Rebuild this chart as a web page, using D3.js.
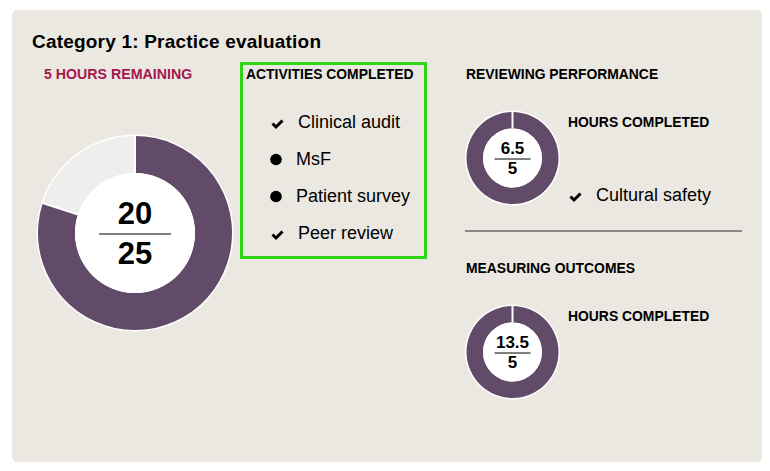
<!DOCTYPE html>
<html>
<head>
<meta charset="utf-8">
<script src="https://cdn.jsdelivr.net/npm/d3@7"></script>
<style>
  body { margin: 0; background: #fff; }
  text { font-family: "Liberation Sans", Arial, sans-serif; }
</style>
</head>
<body>
<div id="chart"></div>
<script>
var width = 770;
var height = 471;

// main category
var categoryTitle = "Category 1: Practice evaluation";
var mainDone = 20;
var mainTarget = 25;

// activities list
var activities = ["Clinical audit", "MsF", "Patient survey", "Peer review"];
var activityDone = [true, false, false, true];

// sub sections
var sections = ["REVIEWING PERFORMANCE", "MEASURING OUTCOMES"];
var sectionDone = [6.5, 13.5];
var sectionTarget = [5, 5];
var sectionItems = [["Cultural safety"], []];

var purple = "#624b68";
var light = "#efeeec";
var headSize = "13.9px";

var svg = d3.select("#chart").append("svg")
    .attr("width", width)
    .attr("height", height);

svg.append("rect")
    .attr("x", 12).attr("y", 10)
    .attr("width", 750).attr("height", 452)
    .attr("rx", 5)
    .attr("fill", "#ebe8e2");

svg.append("text")
    .attr("x", 32).attr("y", 48)
    .attr("font-size", "19px")
    .attr("letter-spacing", "0.2px")
    .attr("font-weight", "bold")
    .attr("fill", "#000")
    .text(categoryTitle);

svg.append("text")
    .attr("x", 44).attr("y", 79)
    .attr("font-size", "14.2px")
    .attr("font-weight", "bold")
    .attr("fill", "#a3174b")
    .text((mainTarget - mainDone) + " HOURS REMAINING");

function drawDonut(cx, cy, rOuter, rInner, done, target, fs, lineHalf, gap) {
    var g = svg.append("g").attr("transform", "translate(" + cx + "," + cy + ")");
    var vals = [Math.min(done, target), Math.max(target - done, 0)];
    var pie = d3.pie().sort(null)(vals);
    var arc = d3.arc().innerRadius(rInner).outerRadius(rOuter);
    g.append("circle").attr("r", rOuter + 1.5).attr("fill", "#fff");
    g.selectAll("path.seg").data(pie).enter().append("path")
        .attr("class", "seg")
        .attr("d", arc)
        .attr("fill", function(d, i) { return i == 0 ? purple : light; });
    // separators at slice edges
    pie.forEach(function(d) {
        if (d.endAngle - d.startAngle <= 0) return;
        var a = d.startAngle;
        g.append("line")
            .attr("x1", Math.sin(a) * rInner).attr("y1", -Math.cos(a) * rInner)
            .attr("x2", Math.sin(a) * (rOuter + 1)).attr("y2", -Math.cos(a) * (rOuter + 1))
            .attr("stroke", "#fff").attr("stroke-width", 2);
    });
    g.append("circle").attr("r", rInner).attr("fill", "#fff");
    g.append("text")
        .attr("x", 0).attr("y", -gap)
        .attr("text-anchor", "middle")
        .attr("font-size", fs + "px")
        .attr("font-weight", "bold")
        .text(done);
    g.append("line")
        .attr("x1", -lineHalf).attr("x2", lineHalf)
        .attr("y1", 1).attr("y2", 1)
        .attr("stroke", "#808080").attr("stroke-width", 2);
    g.append("text")
        .attr("x", 0).attr("y", gap + fs * 0.72)
        .attr("text-anchor", "middle")
        .attr("font-size", fs + "px")
        .attr("font-weight", "bold")
        .text(target);
}

function drawCheck(x, y) {
    // x,y = left, vertical middle of the tick
    svg.append("path")
        .attr("d", "M" + (x + 0.5) + "," + (y - 0.5) + " L" + (x + 4) + "," + (y + 3) + " L" + (x + 10.5) + "," + (y - 3.5))
        .attr("fill", "none")
        .attr("stroke", "#000")
        .attr("stroke-width", 3);
}

drawDonut(135, 233, 97, 60, mainDone, mainTarget, 31, 36, 9);

// activities box
svg.append("rect")
    .attr("x", 241.5).attr("y", 63.5)
    .attr("width", 184).attr("height", 194)
    .attr("fill", "none")
    .attr("stroke", "#2fd616")
    .attr("stroke-width", 3);

svg.append("text")
    .attr("x", 246).attr("y", 78.5)
    .attr("font-size", headSize)
    .attr("font-weight", "bold")
    .text("ACTIVITIES COMPLETED");

var yAct = d3.scalePoint().domain(activities).range([128, 239]);
activities.forEach(function(a, i) {
    var y = yAct(a);
    if (activityDone[i]) {
        drawCheck(272, y - 4);
    } else {
        svg.append("circle").attr("cx", 276).attr("cy", y - 5.5).attr("r", 5.8).attr("fill", "#000");
    }
    svg.append("text")
        .attr("x", activityDone[i] ? 298 : 296).attr("y", y)
        .attr("font-size", "18px")
        .text(a);
});

// sub sections
var secTop = [79, 273];
sections.forEach(function(s, i) {
    var y0 = secTop[i];
    svg.append("text")
        .attr("x", 466).attr("y", y0)
        .attr("font-size", headSize)
        .attr("font-weight", "bold")
        .text(s);
    drawDonut(512.5, y0 + 79, 46, 29.5, sectionDone[i], sectionTarget[i], 17, 18, 4);
    svg.append("text")
        .attr("x", 568).attr("y", y0 + 48)
        .attr("font-size", headSize)
        .attr("font-weight", "bold")
        .text("HOURS COMPLETED");
    sectionItems[i].forEach(function(it, j) {
        var y = y0 + 122 + j * 36;
        drawCheck(570, y - 4);
        svg.append("text")
            .attr("x", 596).attr("y", y)
            .attr("font-size", "18px")
            .text(it);
    });
});

svg.append("line")
    .attr("x1", 465).attr("x2", 742)
    .attr("y1", 231).attr("y2", 231)
    .attr("stroke", "#888")
    .attr("stroke-width", 2);
</script>
</body>
</html>
